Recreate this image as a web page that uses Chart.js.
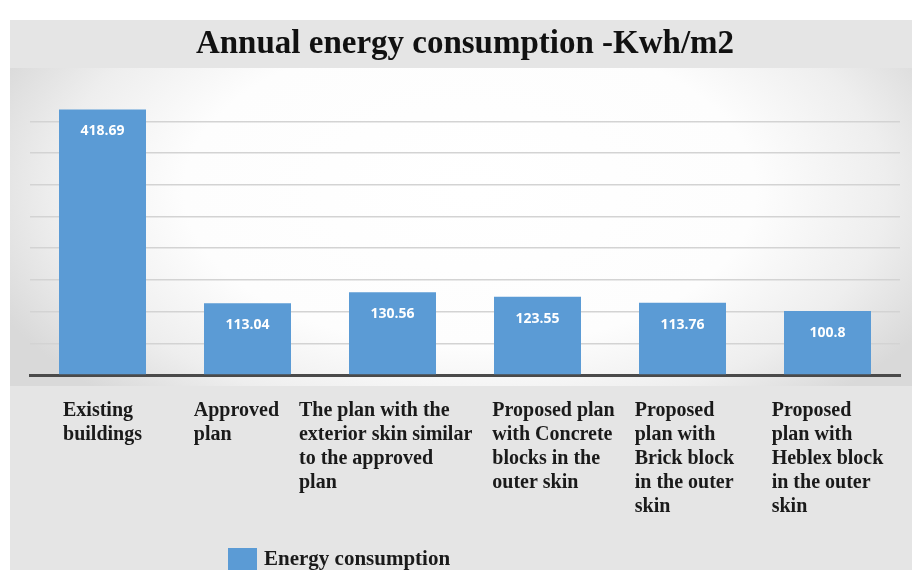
<!DOCTYPE html>
<html>
<head>
<meta charset="utf-8">
<script src="https://cdn.jsdelivr.net/npm/chart.js@4/dist/chart.umd.min.js"></script>
<style>
  html, body { margin: 0; padding: 0; background: #ffffff; }
  #wrap { width: 912px; height: 570px; }
</style>
</head>
<body>
<div id="wrap"><canvas id="c" width="912" height="570"></canvas></div>
<script>
const titleText = "Annual energy consumption -Kwh/m2";
const seriesLabel = "Energy consumption";
const categories = [
  ["Existing", "buildings"],
  ["Approved", "plan"],
  ["The plan with the", "exterior skin similar", "to the approved", "plan"],
  ["Proposed plan", "with Concrete", "blocks in the", "outer skin"],
  ["Proposed", "plan with", "Brick block", "in the outer", "skin"],
  ["Proposed", "plan with", "Heblex block", "in the outer", "skin"]
];
const energyValues = [418.69, 113.04, 130.56, 123.55, 113.76, 100.8];
const yMin = 0, yMax = 450, yStep = 50;

const BAR_COLOR = '#5b9bd5';
const SERIF = '"Liberation Serif", "Times New Roman", serif';

const backgroundPlugin = {
  id: 'bg',
  beforeDraw(chart) {
    const ctx = chart.ctx;
    ctx.save();
    ctx.fillStyle = '#ffffff';
    ctx.fillRect(0, 0, chart.width, chart.height);
    ctx.fillStyle = '#e5e5e5';
    ctx.fillRect(10, 20, chart.width - 10, chart.height - 20);
    const top = 68, bottom = 386;
    ctx.beginPath();
    ctx.rect(10, top, chart.width - 10, bottom - top);
    ctx.clip();
    const cx = 470, cy = 190;
    ctx.translate(cx, cy);
    ctx.scale(1, 0.55);
    const g = ctx.createRadialGradient(0, 0, 0, 0, 0, 520);
    g.addColorStop(0, '#ffffff');
    g.addColorStop(0.55, '#fdfdfd');
    g.addColorStop(0.8, '#eeeeee');
    g.addColorStop(1, '#d9d9d9');
    ctx.fillStyle = g;
    ctx.fillRect(-cx, -700, 2000, 1400);
    ctx.restore();
  }
};

const labelsPlugin = {
  id: 'customLabels',
  afterDatasetsDraw(chart) {
    const ctx = chart.ctx;
    const meta = chart.getDatasetMeta(0);
    ctx.save();
    ctx.fillStyle = '#ffffff';
    ctx.font = 'bold 14px "Open Sans", sans-serif';
    ctx.textAlign = 'center';
    ctx.textBaseline = 'middle';
    meta.data.forEach((bar, i) => {
      ctx.fillText(String(energyValues[i]), bar.x, bar.y + 22);
    });
    ctx.restore();
  },
  afterDraw(chart) {
    const ctx = chart.ctx;
    const xs = chart.scales.x;
    const lh = 24;
    const top = xs.top + 24;
    const gap = 20;
    ctx.save();
    ctx.fillStyle = '#1a1a1a';
    ctx.font = 'bold 20px ' + SERIF;
    ctx.textAlign = 'left';
    ctx.textBaseline = 'middle';
    // wrapped label blocks: lines left-aligned, block centred under its bar,
    // neighbouring blocks pushed apart when they would touch
    const blocks = categories.map((lines, i) => {
      const w = Math.max(...lines.map(l => ctx.measureText(l).width));
      const c = xs.getPixelForValue(i);
      return { lines, left: c - w / 2, w };
    });
    for (let it = 0; it < 12; it++) {
      for (let i = 1; i < blocks.length; i++) {
        const prev = blocks[i - 1], cur = blocks[i];
        const d = prev.left + prev.w + gap - cur.left;
        if (d > 0.01) { prev.left -= d / 2; cur.left += d / 2; }
      }
    }
    blocks.forEach(b => {
      b.lines.forEach((l, j) => ctx.fillText(l, b.left, top + lh / 2 + j * lh));
    });
    // legend
    const ds = chart.data.datasets[0];
    ctx.fillStyle = ds.backgroundColor;
    ctx.fillRect(228, 548, 29, 24);
    ctx.fillStyle = '#1a1a1a';
    ctx.font = 'bold 21px ' + SERIF;
    ctx.fillText(ds.label, 264, 560);
    ctx.restore();
  }
};

new Chart(document.getElementById('c'), {
  type: 'bar',
  data: {
    labels: categories,
    datasets: [{
      label: seriesLabel,
      data: energyValues,
      backgroundColor: BAR_COLOR,
      borderWidth: 0,
      barPercentage: 0.6,
      categoryPercentage: 1.0
    }]
  },
  options: {
    responsive: false,
    animation: false,
    layout: { padding: { left: 30, right: 12, top: 0, bottom: 195 } },
    plugins: {
      legend: { display: false },
      tooltip: { enabled: false },
      title: {
        display: true,
        text: titleText,
        color: '#111111',
        font: { family: SERIF, size: 33, weight: 'bold', lineHeight: 1.2 },
        padding: { top: 25, bottom: 25 }
      }
    },
    scales: {
      x: {
        grid: { display: false, drawTicks: false },
        border: { display: true, color: '#4a4a4a', width: 3 },
        ticks: { display: false }
      },
      y: {
        min: yMin, max: yMax,
        grid: {
          drawTicks: false,
          color: ctx => (ctx.tick && ctx.tick.value === yMax) ? 'rgba(0,0,0,0)' : '#d3d3d3',
          lineWidth: 1.5
        },
        border: { display: false },
        ticks: { display: false, stepSize: yStep }
      }
    }
  },
  plugins: [backgroundPlugin, labelsPlugin]
});
</script>
</body>
</html>
